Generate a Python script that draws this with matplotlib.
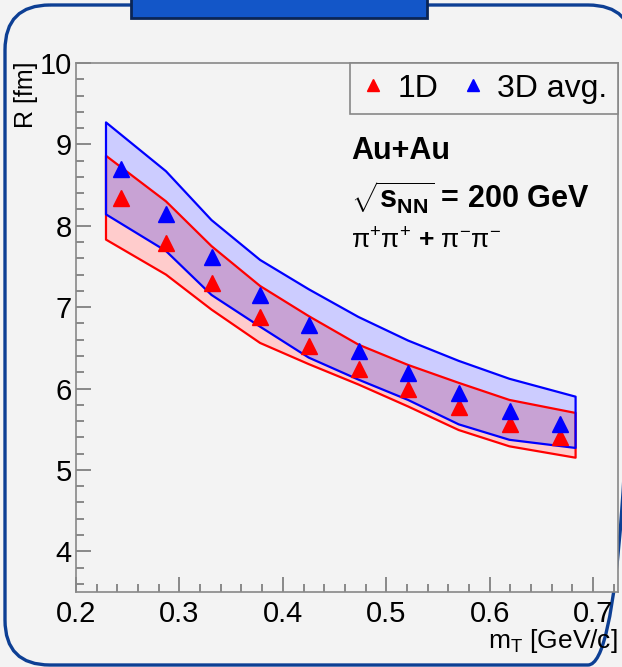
import matplotlib
matplotlib.use("Agg")
import numpy as np
import matplotlib.pyplot as plt
from matplotlib.patches import FancyBboxPatch, Rectangle
from matplotlib.ticker import MultipleLocator

plt.rcParams['font.family'] = ['Liberation Sans', 'DejaVu Sans']
plt.rcParams['mathtext.fontset'] = 'custom'
plt.rcParams['mathtext.rm'] = 'Liberation Sans'
plt.rcParams['mathtext.bf'] = 'Liberation Sans:bold'
plt.rcParams['mathtext.it'] = 'Liberation Sans:italic'

# data
mt = [0.2435, 0.2867, 0.3314, 0.3778, 0.4248, 0.4734, 0.5214, 0.570, 0.6193, 0.6676]
r_1d = [8.34, 7.79, 7.30, 6.88, 6.52, 6.24, 6.00, 5.77, 5.57, 5.41]
r_3d = [8.70, 8.15, 7.62, 7.15, 6.78, 6.46, 6.19, 5.95, 5.73, 5.56]

band_x = [0.229, 0.287, 0.331, 0.378, 0.425, 0.473, 0.521, 0.570, 0.619, 0.683]
band_1d_lo = [7.83, 7.40, 6.97, 6.56, 6.30, 6.05, 5.78, 5.49, 5.29, 5.15]
band_1d_hi = [8.86, 8.30, 7.75, 7.26, 6.89, 6.54, 6.29, 6.07, 5.86, 5.70]
band_3d_lo = [8.14, 7.69, 7.15, 6.76, 6.38, 6.11, 5.86, 5.56, 5.37, 5.27]
band_3d_hi = [9.27, 8.67, 8.07, 7.58, 7.22, 6.88, 6.59, 6.34, 6.12, 5.90]

W, H = 622, 667
bg = '#f3f3f3'
fig = plt.figure(figsize=(W / 100, H / 100), dpi=100, facecolor=bg)

# background layer in pixel units (y down) for the rounded frame and the tab
deco = fig.add_axes([0, 0, 1, 1], zorder=0)
deco.set_xlim(0, W)
deco.set_ylim(H, 0)
deco.axis('off')
deco.add_patch(FancyBboxPatch((5, 5), 628, 660, boxstyle="round,pad=0,rounding_size=45",
                              facecolor='none', edgecolor='#0d3f94', lw=2.4, clip_on=False))
deco.add_patch(Rectangle((131, -10), 296, 28, facecolor='#1356c8',
                         edgecolor='#0b2555', lw=2, clip_on=False))

ax = fig.add_axes([76 / W, 1 - 592 / H, (618 - 76) / W, (592 - 63) / H], zorder=1)
ax.set_facecolor(bg)

# bands: red, blue and their overlap
ax.fill_between(band_x, band_1d_lo, band_1d_hi, facecolor='#ffcccc', edgecolor='none')
ax.fill_between(band_x, band_3d_lo, band_3d_hi, facecolor='#ccccff', edgecolor='none')
ax.fill_between(band_x, np.maximum(band_1d_lo, band_3d_lo), np.minimum(band_1d_hi, band_3d_hi),
                facecolor='#c8a2d4', edgecolor='none')
ax.fill_between(band_x, band_1d_lo, band_1d_hi, facecolor='none', edgecolor='red', lw=1.6)
ax.fill_between(band_x, band_3d_lo, band_3d_hi, facecolor='none', edgecolor='blue', lw=1.6)

ax.plot(mt, r_1d, '^', color='red', ms=11, mec='red', label='1D')
ax.plot(mt, r_3d, '^', color='blue', ms=11, mec='blue', label='3D avg.')

ax.set_xlim(0.2, 0.724)
ax.set_ylim(3.5, 10)
ax.xaxis.set_major_locator(MultipleLocator(0.1))
ax.xaxis.set_minor_locator(MultipleLocator(0.02))
ax.yaxis.set_major_locator(MultipleLocator(1))
ax.yaxis.set_minor_locator(MultipleLocator(0.2))
ax.tick_params(which='both', direction='in', colors='#777777', labelcolor='black', width=1.2)
ax.tick_params(which='major', length=11, labelsize=21, pad=3)
ax.tick_params(which='minor', length=6)
ax.tick_params(axis='x', which='major', pad=6)
ax.set_yticks([4, 5, 6, 7, 8, 9, 10])
ax.set_xticks([0.2, 0.3, 0.4, 0.5, 0.6, 0.7])
ax.set_xticklabels(['0.2', '0.3', '0.4', '0.5', '0.6', '0.7'])
for s in ax.spines.values():
    s.set_color('#888888')
    s.set_linewidth(1.2)

leg = ax.legend(loc='upper right', bbox_to_anchor=(1, 1), borderaxespad=0, ncol=2,
                fancybox=False, edgecolor='#888888', facecolor=bg, framealpha=1,
                fontsize=23, markerscale=0.8, handletextpad=0.35, handlelength=0.8,
                columnspacing=0.7, borderpad=0.33)
leg.get_frame().set_linewidth(1.2)

fig.text(351 / W, 1 - 151 / H, 'Au+Au', fontsize=22, fontweight='bold', va='center')
fig.text(351 / W, 1 - 198 / H, r'$\mathbf{\sqrt{s_{NN}}}$ = 200 GeV', fontsize=22,
         fontweight='bold', va='center')
fig.text(351 / W, 1 - 241 / H,
         r'$\mathrm{\pi^{+}\pi^{+}}$ + $\mathrm{\pi^{-}\pi^{-}}$', fontsize=19,
         fontweight='bold', va='center')

fig.text(26 / W, 1 - 62 / H, 'R [fm]', fontsize=18, rotation=90, ha='center', va='top')
fig.text(618 / W, 1 - 641 / H, r'm$_{\mathrm{T}}$ [GeV/c]', fontsize=19, ha='right', va='center')

fig.savefig('out.png', dpi=100, facecolor=bg)
